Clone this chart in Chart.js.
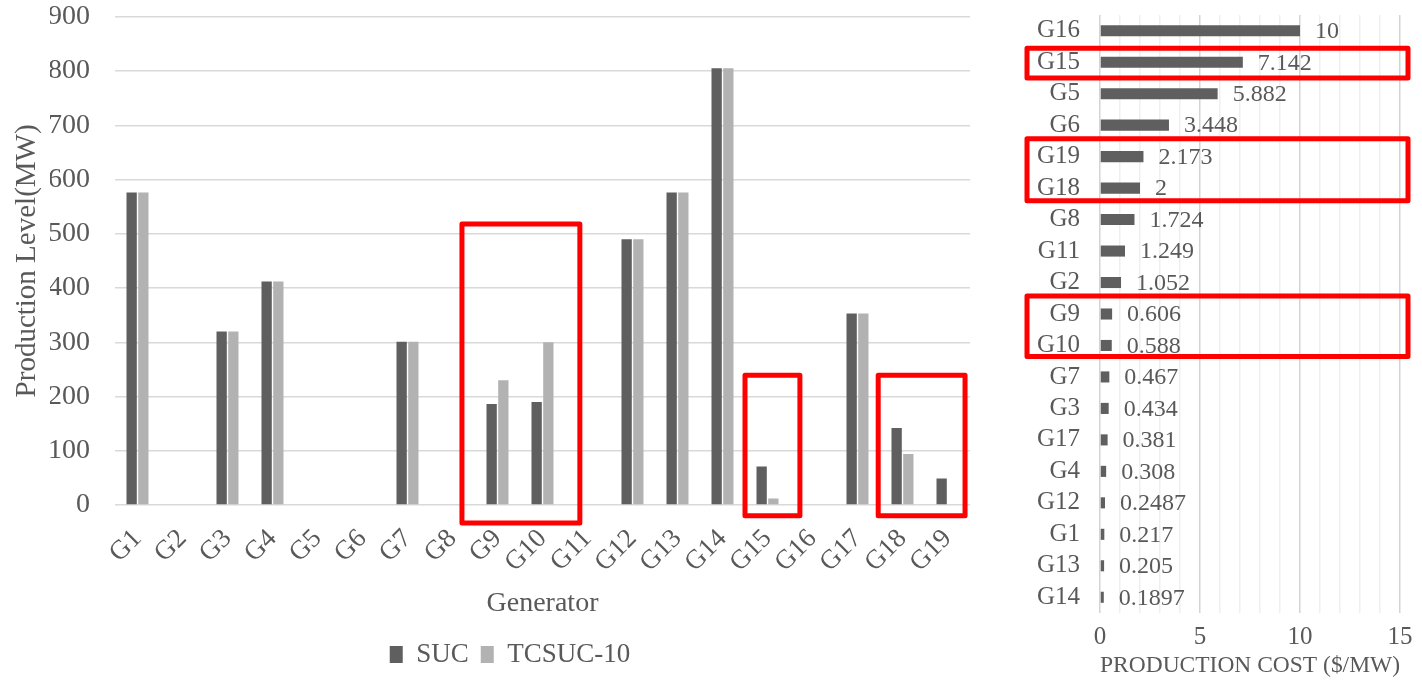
<!DOCTYPE html>
<html>
<head>
<meta charset="utf-8">
<script src="https://cdn.jsdelivr.net/npm/chart.js@4.4.1/dist/chart.umd.min.js"></script>
<style>
  html, body { margin: 0; padding: 0; background: #fff; }
  #left { position: absolute; left: 0; top: 0; width: 995px; height: 686px; }
  #right { position: absolute; left: 1000px; top: 0; width: 422px; height: 686px; }
</style>
</head>
<body>
<div id="left"><canvas id="levelChart"></canvas></div>
<div id="right"><canvas id="costChart"></canvas></div>
<script>
// production levels (MW)
const generators = ['G1', 'G2', 'G3', 'G4', 'G5', 'G6', 'G7', 'G8', 'G9', 'G10',
  'G11', 'G12', 'G13', 'G14', 'G15', 'G16', 'G17', 'G18', 'G19'];
const suc = [576, 0, 320, 412, 0, 0, 301, 0, 186, 190, 0, 490, 576, 805, 71, 0, 353, 142, 49];
const tcsuc = [576, 0, 320, 412, 0, 0, 301, 0, 230, 300, 0, 490, 576, 805, 12, 0, 353, 94, 0];

// production cost ($/MW), sorted as in the figure
const costGenerators = ['G16', 'G15', 'G5', 'G6', 'G19', 'G18', 'G8', 'G11', 'G2', 'G9',
  'G10', 'G7', 'G3', 'G17', 'G4', 'G12', 'G1', 'G13', 'G14'];
const costValues = [10, 7.142, 5.882, 3.448, 2.173, 2, 1.724, 1.249, 1.052, 0.606,
  0.588, 0.467, 0.434, 0.381, 0.308, 0.2487, 0.217, 0.205, 0.1897];

const textColor = '#595959';
const dark = '#5f5f5f';
const light = '#b2b2b2';
Chart.defaults.font.family = "'Liberation Serif', 'Times New Roman', serif";
Chart.defaults.color = textColor;
Chart.defaults.animation = false;

// red highlight frames (category index range, value range)
const levelBoxes = [
  { from: 7.21, to: 9.83, low: -33, high: 518 },
  { from: 13.5, to: 14.72, low: -20, high: 239 },
  { from: 16.46, to: 18.39, low: -20, high: 239 }
];
const costBoxes = [
  { from: 0.56, to: 1.5, low: -3.65, high: 15.4 },
  { from: 3.43, to: 5.4, low: -3.65, high: 15.4 },
  { from: 8.43, to: 10.35, low: -3.65, high: 15.4 }
];

const redFrames = {
  id: 'redFrames',
  afterDraw(chart, args, opts) {
    const { ctx } = chart;
    const horizontal = chart.options.indexAxis === 'y';
    const catScale = horizontal ? chart.scales.y : chart.scales.x;
    const valScale = horizontal ? chart.scales.x : chart.scales.y;
    ctx.save();
    ctx.strokeStyle = '#ff0000';
    ctx.lineWidth = 5;
    ctx.lineJoin = 'round';
    opts.boxes.forEach((b) => {
      const c0 = catScale.getPixelForValue(b.from);
      const c1 = catScale.getPixelForValue(b.to);
      const v0 = valScale.getPixelForValue(b.low);
      const v1 = valScale.getPixelForValue(b.high);
      if (horizontal) {
        ctx.strokeRect(Math.min(v0, v1), Math.min(c0, c1), Math.abs(v1 - v0), Math.abs(c1 - c0));
      } else {
        ctx.strokeRect(Math.min(c0, c1), Math.min(v0, v1), Math.abs(c1 - c0), Math.abs(v1 - v0));
      }
    });
    ctx.restore();
  }
};

const endLabels = {
  id: 'endLabels',
  afterDatasetsDraw(chart) {
    const { ctx } = chart;
    const meta = chart.getDatasetMeta(0);
    ctx.save();
    ctx.font = "24px 'Liberation Serif'";
    ctx.fillStyle = textColor;
    ctx.textBaseline = 'middle';
    meta.data.forEach((bar, i) => {
      const { x, y } = bar.getProps(['x', 'y'], true);
      ctx.fillText(String(costValues[i]), x + 15, y + 1);
    });
    ctx.restore();
  }
};

new Chart(document.getElementById('levelChart'), {
  type: 'bar',
  data: {
    labels: generators,
    datasets: [
      { label: 'SUC', data: suc, backgroundColor: dark },
      { label: 'TCSUC-10', data: tcsuc, backgroundColor: light }
    ]
  },
  options: {
    responsive: true,
    maintainAspectRatio: false,
    layout: { padding: { top: 2, right: 25, bottom: 8, left: 50 } },
    datasets: { bar: { categoryPercentage: 0.52, barPercentage: 0.88 } },
    scales: {
      x: {
        grid: { display: false },
        border: { display: false },
        ticks: { minRotation: 45, maxRotation: 45, autoSkip: false, font: { size: 27 }, padding: 10 },
        title: { display: true, text: 'Generator', font: { size: 28 }, padding: { top: 0, bottom: 9 } },
        afterFit(scale) { scale.height = 124; }
      },
      y: {
        min: 0,
        max: 900,
        ticks: { stepSize: 100, font: { size: 28 }, padding: 0 },
        grid: { color: '#d9d9d9', lineWidth: 1.5, tickLength: 25, tickColor: 'rgba(0,0,0,0)' },
        border: { display: false },
        title: { display: true, text: 'Production Level(MW)', font: { size: 29 }, padding: { top: -40, bottom: 0 } },
        afterFit(scale) { scale.width = 65; }
      }
    },
    plugins: {
      legend: {
        position: 'bottom',
        labels: { boxWidth: 13, boxHeight: 17, padding: 12, font: { size: 27 } }
      },
      tooltip: { enabled: false },
      redFrames: { boxes: levelBoxes }
    }
  },
  plugins: [redFrames]
});

new Chart(document.getElementById('costChart'), {
  type: 'bar',
  data: {
    labels: costGenerators,
    datasets: [{ label: 'Production cost', data: costValues, backgroundColor: dark }]
  },
  options: {
    indexAxis: 'y',
    responsive: true,
    maintainAspectRatio: false,
    layout: { padding: { top: 0, right: 22, bottom: 0, left: 0 } },
    datasets: { bar: { categoryPercentage: 0.8, barPercentage: 0.44 } },
    scales: {
      x: {
        min: 0,
        max: 15,
        ticks: {
          stepSize: 1,
          autoSkip: false,
          maxRotation: 0,
          font: { size: 25 },
          padding: 9,
          callback: (v) => (v % 5 === 0 ? v : '')
        },
        grid: {
          drawTicks: false,
          color: (c) => (c.tick && c.tick.value % 5 === 0 ? '#d4d4d4' : '#efefef'),
          lineWidth: 1.5
        },
        border: { display: false },
        title: { display: true, text: 'PRODUCTION COST ($/MW)', font: { size: 24 }, padding: { top: 2, bottom: 6 } },
        afterFit(scale) { scale.height = 73; }
      },
      y: {
        ticks: { font: { size: 25 }, padding: 0, autoSkip: false },
        grid: { display: false, tickLength: 20, tickColor: 'rgba(0,0,0,0)' },
        border: { display: false },
        afterFit(scale) { scale.width = 100; }
      }
    },
    plugins: {
      legend: { display: false },
      tooltip: { enabled: false },
      redFrames: { boxes: costBoxes }
    }
  },
  plugins: [redFrames, endLabels]
});
</script>
</body>
</html>
